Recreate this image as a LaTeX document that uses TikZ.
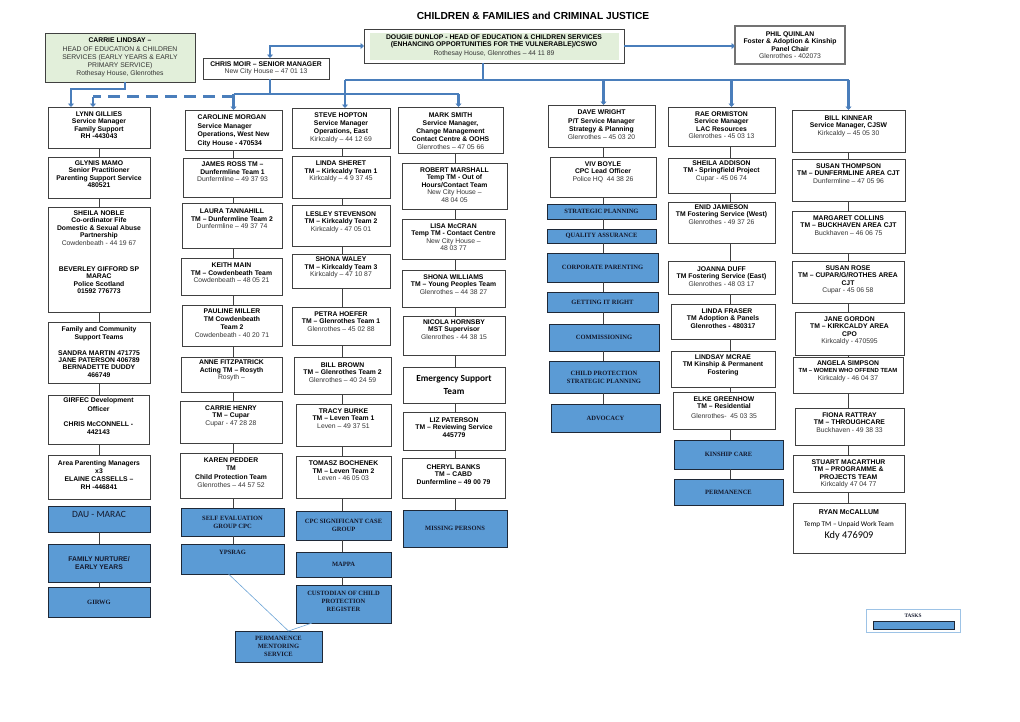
\documentclass[tikz,border=0pt]{standalone}
\usepackage{fontspec}
\setmainfont{Liberation Sans}
\newfontfamily\tnr{Liberation Serif}
\newfontfamily\calib{Carlito}
\usetikzlibrary{arrows.meta}
\definecolor{bfill}{RGB}{91,155,213}
\definecolor{bdraw}{RGB}{30,40,55}
\definecolor{barc}{RGB}{74,126,187}
\definecolor{gfill}{RGB}{226,239,218}
\definecolor{lbl}{RGB}{157,195,230}
\definecolor{navyt}{RGB}{20,25,45}
\definecolor{thinl}{RGB}{110,165,215}
\newcommand\rgl[1]{{\mdseries\color{black!80}#1}}
\newcommand\bx[9]{%
  \pgfmathsetmacro\myw{#4-#2}\pgfmathsetmacro\myh{#5-#3}%
  \pgfmathsetmacro\myx{(#2+#4)/2}\pgfmathsetmacro\myy{(#3+#5)/2}%
  \node[#6, minimum width=\myw pt, minimum height=\myh pt, inner sep=0pt, outer sep=0pt] (#1) at (\myx,\myy) {};
  \node[#7, anchor=north] (#1t) at ([yshift=-#8pt]#1.north) {#9};}
\newcommand\bc[7]{%
  \pgfmathsetmacro\myw{#4-#2}\pgfmathsetmacro\myh{#5-#3}%
  \pgfmathsetmacro\myx{(#2+#4)/2}\pgfmathsetmacro\myy{(#3+#5)/2}%
  \node[#6, minimum width=\myw pt, minimum height=\myh pt, inner sep=0pt, outer sep=0pt, align=center] (#1) at (\myx,\myy) {#7};}
\tikzset{
  wb/.style={draw=black!75, line width=0.9pt, fill=white},
  gb/.style={draw=black!55, line width=1.1pt, fill=white},
  bb/.style={draw=bdraw, line width=0.9pt, fill=bfill},
  tx/.style={font=\fontsize{6.8}{7.45}\selectfont\bfseries, align=center, inner sep=0pt, text=black},
  tx8/.style={tx, font=\fontsize{6.8}{8.1}\selectfont\bfseries},
  bt/.style={font=\tnr\fontsize{6.5}{8}\selectfont\bfseries, align=center, inner sep=0pt, text=navyt},
  conn/.style={draw=black!75, line width=0.9pt},
  bar/.style={draw=barc, line width=2.6pt},
  arr/.style={-{Triangle[length=3.5pt,width=6pt]}},
  thinblue/.style={draw=thinl, line width=0.6pt},
}
\begin{document}
\begin{tikzpicture}[x=1pt,y=-1pt]
\fill[white] (0,0) rectangle (1020,721);
\useasboundingbox (0,0) rectangle (1020,721);

\node[font=\fontsize{10.2}{12}\selectfont\bfseries] (title) at (533,16) {CHILDREN \& FAMILIES and CRIMINAL JUSTICE};

% top level
\bx{carrie}{45}{33}{195}{82}{wb,fill=gfill}{tx8}{5}{CARRIE LINDSAY –\\\rgl{HEAD OF EDUCATION \& CHILDREN}\\\rgl{SERVICES (EARLY YEARS \& EARLY}\\\rgl{PRIMARY SERVICE)}\\\rgl{Rothesay House, Glenrothes}}
\bc{chris}{203}{58}{329}{79}{wb,tx}{CHRIS MOIR – SENIOR MANAGER\\\rgl{New City House – 47 01 13}}
\node[wb, minimum width=260pt, minimum height=34pt, inner sep=0pt, outer sep=0pt] (dougie) at (494,46) {};
\node[fill=gfill, minimum width=249pt, minimum height=27pt, inner sep=0pt] (dougieg) at (494.5,46.5) {};
\node[tx, anchor=north] (dougiet) at ([yshift=-5.5pt]dougie.north) {DOUGIE DUNLOP - HEAD OF EDUCATION \& CHILDREN SERVICES\\(ENHANCING OPPORTUNITIES FOR THE VULNERABLE)/CSWO\\[1.5pt]\rgl{Rothesay House, Glenrothes – 44 11 89}};
\bc{phil}{735}{26}{845}{64}{gb,tx}{PHIL QUINLAN\\Foster \& Adoption \& Kinship\\Panel Chair\\\rgl{Glenrothes - 402073}}

% column 1
\bx{lynn}{48}{107}{150}{148}{wb}{tx}{4.5}{LYNN GILLIES\\Service Manager\\Family Support\\RH -443043}
\bx{glynis}{48}{157}{150}{198}{wb}{tx}{3.5}{GLYNIS MAMO\\Senior Practitioner\\Parenting Support Service\\480521}
\bx{sheila}{48}{207}{150}{312}{wb}{tx}{3.5}{SHEILA NOBLE\\Co-ordinator Fife\\Domestic \& Sexual Abuse\\Partnership\\\rgl{Cowdenbeath - 44 19 67}\\[18.8pt]BEVERLEY GIFFORD SP\\MARAC\\Police Scotland\\01592 776773}
\bx{family}{48}{322}{150}{383}{wb}{tx}{4.8}{Family and Community\\Support Teams\\[8.2pt]SANDRA MARTIN 471775\\JANE PATERSON 406789\\BERNADETTE DUDDY\\466749}
\bx{girfec}{48}{395}{149}{444}{wb}{tx8}{2.8}{GIRFEC Development\\Officer\\[7pt]CHRIS McCONNELL -\\442143}
\bx{area}{48}{455}{150}{499}{wb}{tx8}{5}{Area Parenting Managers\\x3\\ELAINE CASSELLS –\\RH -446841}
\bx{dau}{48}{506}{150}{532}{bb}{font=\calib\fontsize{9.5}{11}\selectfont, inner sep=0pt, text=navyt}{5.5}{DAU - MARAC}
\bc{nurture}{48}{544}{150}{582}{bb,tx,text=navyt}{FAMILY NURTURE/\\EARLY YEARS}
\bc{girwg}{48}{587}{150}{617}{bb,bt}{GIRWG}

% column 2
\bx{caroline}{185}{110}{282}{150}{wb}{tx, align=left, font=\fontsize{6.8}{8.6}\selectfont\bfseries}{4.5}{CAROLINE MORGAN\\Service Manager\\Operations, West New\\City House - 470534}
\bx{james}{183}{158}{282}{197}{wb}{tx}{4}{JAMES ROSS TM –\\Dunfermline Team 1\\\rgl{Dunfermline – 49 37 93}}
\bx{laura}{182}{203}{282}{248}{wb}{tx}{6}{LAURA TANNAHILL\\TM – Dunfermline Team 2\\\rgl{Dunfermline – 49 37 74}}
\bx{keith}{181}{258}{282}{295}{wb}{tx}{5}{KEITH MAIN\\TM – Cowdenbeath Team\\\rgl{Cowdenbeath – 48 05 21}}
\bx{pauline}{182}{305}{282}{346}{wb}{tx8}{3.5}{PAULINE MILLER\\TM Cowdenbeath\\Team 2\\\rgl{Cowdenbeath - 40 20 71}}
\bx{anne}{181}{357}{282}{392}{wb}{tx}{3}{ANNE FITZPATRICK\\Acting TM – Rosyth\\\rgl{Rosyth –}}
\bx{carrieh}{180}{401}{282}{443}{wb}{tx}{4.5}{CARRIE HENRY\\TM – Cupar\\\rgl{Cupar - 47 28 28}}
\bx{karen}{180}{453}{282}{498}{wb}{tx8}{5}{KAREN PEDDER\\TM\\Child Protection Team\\\rgl{Glenrothes – 44 57 52}}
\bc{selfeval}{181}{508}{284}{536}{bb,bt}{SELF EVALUATION\\GROUP CPC}
\bx{ypsrag}{181}{544}{284}{574}{bb}{bt}{5.5}{YPSRAG}
\bc{perm}{235}{631}{322}{662}{bb,bt}{PERMANENCE\\MENTORING\\SERVICE}

% column 3
\bx{steve}{292}{108}{390}{148}{wb}{tx8}{4.5}{STEVE HOPTON\\Service Manager\\Operations, East\\\rgl{Kirkcaldy – 44 12 69}}
\bx{linda}{292}{156}{390}{198}{wb}{tx}{5}{LINDA SHERET\\TM – Kirkcaldy Team 1\\\rgl{Kirkcaldy – 4 9 37 45}}
\bx{lesley}{292}{205}{390}{246}{wb}{tx}{6.5}{LESLEY STEVENSON\\TM – Kirkcaldy Team 2\\\rgl{Kirkcaldy - 47 05 01}}
\bx{shonawa}{292}{254}{390}{288}{wb}{tx}{3}{SHONA WALEY\\TM – Kirkcaldy Team 3\\\rgl{Kirkcaldy – 47 10 87}}
\bx{petra}{292}{307}{390}{345}{wb}{tx}{4.5}{PETRA HOEFER\\TM – Glenrothes Team 1\\\rgl{Glenrothes – 45 02 88}}
\bx{billb}{294}{357}{391}{394}{wb}{tx}{5.5}{BILL BROWN\\TM – Glenrothes Team 2\\\rgl{Glenrothes – 40 24 59}}
\bx{tracy}{296}{404}{391}{446}{wb}{tx}{4.5}{TRACY BURKE\\TM – Leven Team 1\\\rgl{Leven – 49 37 51}}
\bx{tomasz}{296}{456}{391}{498}{wb}{tx}{5}{TOMASZ BOCHENEK\\TM – Leven Team 2\\\rgl{Leven - 46 05 03}}
\bc{cpcsig}{296}{511}{391}{540}{bb,bt}{CPC SIGNIFICANT CASE\\GROUP}
\bc{mappa}{296}{552}{391}{577}{bb,bt}{MAPPA}
\bx{cust}{296}{585}{391}{623}{bb}{bt}{5.7}{CUSTODIAN OF CHILD\\PROTECTION\\REGISTER}

% column 4
\bx{mark}{398}{107}{503}{153}{wb}{tx8}{5.5}{MARK SMITH\\Service Manager,\\Change Management\\Contact Centre \& OOHS\\\rgl{Glenrothes – 47 05 66}}
\bx{robert}{402}{163}{507}{209}{wb}{tx}{4.5}{ROBERT MARSHALL\\Temp TM - Out of\\Hours/Contact Team\\\rgl{New City House –}\\\rgl{48 04 05}}
\bx{lisa}{402}{219}{505}{259}{wb}{tx}{4.5}{LISA McCRAN\\Temp TM - Contact Centre\\\rgl{New City House –}\\\rgl{48 03 77}}
\bx{shonawi}{402}{270}{505}{307}{wb}{tx}{4.5}{SHONA WILLIAMS\\TM – Young Peoples Team\\\rgl{Glenrothes – 44 38 27}}
\bx{nicola}{403}{316}{505}{355}{wb}{tx}{3.5}{NICOLA HORNSBY\\MST Supervisor\\\rgl{Glenrothes - 44 38 15}}
\bc{emerg}{403}{367}{505}{403}{wb, font=\calib\bfseries\fontsize{9.3}{12.3}\selectfont}{Emergency Support\\Team}
\bx{liz}{403}{412}{505}{450}{wb}{tx}{5.5}{LIZ PATERSON\\TM – Reviewing Service\\445779}
\bx{cheryl}{402}{458}{505}{498}{wb}{tx}{6.5}{CHERYL BANKS\\TM – CABD\\Dunfermline – 49 00 79}
\bc{missing}{403}{510}{507}{547}{bb,bt}{MISSING PERSONS}

% column 5
\bx{dave}{548}{105}{655}{147}{wb}{tx8}{5}{DAVE WRIGHT\\P/T Service Manager\\Strategy \& Planning\\\rgl{Glenrothes – 45 03 20}}
\bx{viv}{550}{157}{656}{197}{wb}{tx}{4.5}{VIV BOYLE\\CPC Lead Officer\\\rgl{Police HQ\ \ 44 38 26}}
\bc{strat}{547}{204}{656}{219}{bb,bt}{STRATEGIC PLANNING}
\bc{qa}{547}{229}{656}{243}{bb,bt}{QUALITY ASSURANCE}
\bc{corp}{547}{253}{658}{282}{bb,bt}{CORPORATE PARENTING}
\bc{gir}{547}{292}{658}{312}{bb,bt}{GETTING IT RIGHT}
\bc{comm}{549}{324}{659}{351}{bb,bt}{COMMISSIONING}
\bc{cpsp}{549}{361}{659}{393}{bb,bt}{CHILD PROTECTION\\STRATEGIC PLANNING}
\bc{adv}{551}{404}{660}{432}{bb,bt}{ADVOCACY}

% column 6
\bx{rae}{668}{107}{775}{146}{wb}{tx}{4.5}{RAE ORMISTON\\Service Manager\\LAC Resources\\\rgl{Glenrothes - 45 03 13}}
\bx{sheilaa}{668}{158}{775}{193}{wb}{tx}{2.5}{SHEILA ADDISON\\TM - Springfield Project\\\rgl{Cupar - 45 06 74}}
\bx{enid}{668}{202}{775}{243}{wb}{tx}{2.5}{ENID JAMIESON\\TM Fostering Service (West)\\\rgl{Glenrothes - 49 37 26}}
\bx{joanna}{668}{261}{775}{294}{wb}{tx}{5.5}{JOANNA DUFF\\TM Fostering Service (East)\\\rgl{Glenrothes - 48 03 17}}
\bx{lindaf}{671}{304}{775}{339}{wb}{tx}{4.5}{\hspace{8pt}LINDA FRASER\\TM Adoption \& Panels\\Glenrothes - 480317}
\bx{lindsay}{671}{351}{775}{387}{wb}{tx}{3.5}{LINDSAY MCRAE\\TM Kinship \& Permanent\\Fostering}
\bx{elke}{673}{392}{775}{429}{wb}{tx}{4.5}{ELKE GREENHOW\\TM – Residential\\[2.5pt]\rgl{Glenrothes-\ \ 45 03 35}}
\bc{kinship}{674}{440}{783}{469}{bb,bt}{KINSHIP CARE}
\bc{perman}{674}{479}{783}{505}{bb,bt}{PERMANENCE}

% column 7
\bx{bill}{792}{110}{905}{152}{wb}{tx}{5.5}{BILL KINNEAR\\Service Manager, CJSW\\\rgl{Kirkcaldy – 45 05 30}}
\bx{susant}{792}{159}{905}{201}{wb}{tx}{4.5}{SUSAN THOMPSON\\TM – DUNFERMLINE AREA CJT\\\rgl{Dunfermline – 47 05 96}}
\bx{margaret}{792}{211}{905}{253}{wb}{tx}{4.5}{MARGARET COLLINS\\TM – BUCKHAVEN AREA CJT\\\rgl{Buckhaven – 46 06 75}}
\bx{susanr}{792}{261}{904}{303}{wb}{tx}{4.5}{SUSAN ROSE\\TM – CUPAR/G/ROTHES AREA\\CJT\\\rgl{Cupar - 45 06 58}}
\bx{jane}{795}{312}{904}{355}{wb}{tx}{4.5}{JANE GORDON\\TM – KIRKCALDY AREA\\CPO\\\rgl{Kirkcaldy - 470595}}
\bx{angela}{793}{357}{903}{393}{wb}{tx}{3.5}{ANGELA SIMPSON\\{\fontsize{5.9}{7}\selectfont TM – WOMEN WHO OFFEND TEAM}\\\rgl{Kirkcaldy - 46 04 37}}
\bx{fiona}{795}{408}{904}{445}{wb}{tx}{4.5}{FIONA RATTRAY\\TM – THROUGHCARE\\\rgl{Buckhaven - 49 38 33}}
\bx{stuart}{793}{455}{904}{492}{wb}{tx}{4.5}{STUART MACARTHUR\\TM – PROGRAMME \&\\PROJECTS TEAM\\\rgl{Kirkcaldy 47 04 77}}
\bx{ryan}{793}{503}{905}{553}{wb}{tx, font=\fontsize{7}{8}\selectfont\bfseries}{6}{RYAN McCALLUM}
\node[font=\calib\fontsize{7.2}{8}\selectfont, inner sep=0pt] (ryan2) at (849,525) {Temp TM – Unpaid Work Team};
\node[font=\calib\fontsize{10.3}{12}\selectfont, inner sep=0pt] (ryan3) at (849,536) {Kdy 476909};

% legend
\node[draw=lbl, line width=1pt, minimum width=94pt, minimum height=23pt, inner sep=0pt] (tasks) at (913,620.5) {};
\node[font=\tnr\fontsize{5.3}{6}\selectfont\bfseries, inner sep=0pt, text=navyt] (taskst) at (913,615.5) {TASKS};
\node[bb, line width=0.7pt, minimum width=81pt, minimum height=8pt, inner sep=0pt] (taskbar) at (913.5,625) {};

% top connectors
\coordinate (barD) at (483,80);
\coordinate (barC) at (270,94);
\coordinate (dashy) at (93,96.5);
\draw[thinblue, line width=1.4pt, draw=barc, arr] (dougie.east) -- (dougie.east -| phil.west);
\draw[bar, {Triangle[length=3.5pt,width=6pt]}-{Triangle[length=3.5pt,width=6pt]}] ([xshift=4pt]chris.north) -- ([xshift=4pt]chris.north |- dougie.west) -- (dougie.west);
\draw[bar] (dougie.south -| barD) -- (barD);
\draw[bar] ([xshift=4pt]steve.north |- barD) -- (bill.north |- barD);
\draw[bar, arr] ([xshift=4pt]steve.north |- barD) -- ([xshift=4pt]steve.north);
\draw[bar, arr] ([xshift=2pt]dave.north |- barD) -- ([xshift=2pt]dave.north);
\draw[bar, arr] ([xshift=10pt]rae.north |- barD) -- ([xshift=10pt]rae.north);
\draw[bar, arr] (bill.north |- barD) -- (bill.north);
\draw[bar] ([xshift=4pt]chris.south) -- (barC);
\draw[bar] (caroline.north |- barC) -- ([xshift=8pt]mark.north |- barC);
\draw[bar, arr] (caroline.north |- barC) -- (caroline.north);
\draw[bar, arr] ([xshift=8pt]mark.north |- barC) -- ([xshift=8pt]mark.north);
\draw[bar, line width=2.2pt, dash pattern=on 12pt off 7pt] (caroline.north |- dashy) -- (dashy);
\draw[bar, line width=2.2pt, arr] (dashy) -- (dashy |- lynn.north);
\draw[bar, arr] ([xshift=5pt]carrie.south) -- ([xshift=5pt,yshift=-7pt]carrie.south) -- ([xshift=-28pt,yshift=-7pt]lynn.north |- carrie.south) -- ([xshift=-28pt]lynn.north);

% column connectors
\coordinate (c1) at (99,0);
\coordinate (c2) at (233,0);
\coordinate (c3) at (342,0);
\coordinate (c4) at (455,0);
\coordinate (c5) at (603,0);
\coordinate (c6) at (730,0);
\coordinate (c7) at (848,0);
\foreach \a/\b in {lynn/glynis,glynis/sheila,sheila/family,family/girfec,girfec/area,dau/nurture,nurture/girwg}
  \draw[conn] (\a.south -| c1) -- (\b.north -| c1);
\foreach \a/\b in {caroline/james,james/laura,laura/keith,keith/pauline,pauline/anne,anne/carrieh,carrieh/karen,karen/selfeval,selfeval/ypsrag}
  \draw[conn] (\a.south -| c2) -- (\b.north -| c2);
\foreach \a/\b in {steve/linda,linda/lesley,lesley/shonawa,shonawa/petra,petra/billb,billb/tracy,tracy/tomasz,tomasz/cpcsig,cpcsig/mappa,mappa/cust}
  \draw[conn] (\a.south -| c3) -- (\b.north -| c3);
\foreach \a/\b in {mark/robert,robert/lisa,lisa/shonawi,shonawi/nicola,nicola/emerg,emerg/liz,liz/cheryl,cheryl/missing}
  \draw[conn] (\a.south -| c4) -- (\b.north -| c4);
\foreach \a/\b in {dave/viv,viv/strat,strat/qa,qa/corp,corp/gir,gir/comm,comm/cpsp,cpsp/adv}
  \draw[conn] (\a.south -| c5) -- (\b.north -| c5);
\foreach \a/\b in {rae/sheilaa,sheilaa/enid,enid/joanna,joanna/lindaf,lindaf/lindsay,lindsay/elke,elke/kinship,kinship/perman}
  \draw[conn] (\a.south -| c6) -- (\b.north -| c6);
\foreach \a/\b in {bill/susant,susant/margaret,margaret/susanr,susanr/jane,jane/angela,angela/fiona,fiona/stuart,stuart/ryan}
  \draw[conn] (\a.south -| c7) -- (\b.north -| c7);

\draw[thinblue] ([xshift=-4pt]ypsrag.south) -- ([xshift=10pt]perm.north);
\draw[thinblue] ([xshift=16pt]cust.south west) -- ([xshift=10pt]perm.north);
\end{tikzpicture}
\end{document}
